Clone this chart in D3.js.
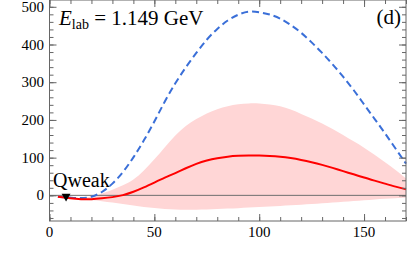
<!DOCTYPE html>
<html>
<head>
<script src="https://cdn.jsdelivr.net/npm/d3@7"></script>
</head>
<body style="margin:0">
<script>
var width = 407,
  height = 263;
var margin = {top: 0, right: 1, bottom: 42, left: 49.5};
var serif = "'Liberation Serif'";

// angle values (x) and the curves
var angles = [4, 10, 15, 20, 25, 30, 35, 40, 45, 50, 55, 60, 65, 70, 75, 80, 85, 90, 95,
  100, 105, 110, 115, 120, 125, 130, 135, 140, 145, 150, 155, 160, 165, 170];
var dashedVals = [-4, -6, -8, -5, 7, 30, 60, 100, 145, 195, 250, 298, 340, 378, 414, 442, 465, 480, 489,
  486, 480, 470, 452, 432, 406, 378, 348, 315, 280, 241, 203, 165, 124, 84];
var solidVals = [-4, -8, -10.5, -10.5, -8, -5, 0, 9, 21, 34, 47, 59, 72, 84, 93, 99, 103, 105, 106,
  105.5, 104.5, 102.5, 99, 94, 88, 81, 73, 64, 56, 47, 39, 31, 23, 16];
var bandUpper = [-4, -7, -8, -4, 5, 15, 26, 40, 65, 95, 128, 160, 185, 203, 218, 229, 237, 242, 244,
  244, 241, 237, 228, 216, 204, 191, 176, 160, 143, 127, 108, 88, 68, 45];
var bandLower = [-4.5, -9, -12, -13, -15, -19, -23, -27, -31, -34, -36, -37.5, -38, -38, -37.5, -36.5, -35, -34, -32.5,
  -31, -29.5, -28, -26.5, -25, -23, -21, -19, -17, -15, -13, -11, -9, -7.5, -6];

var xTicks = [0, 50, 100, 150];
var yTicks = [0, 100, 200, 300, 400, 500];
var qweakAngle = 7.9;

var svg = d3.select('body')
  .append('svg')
  .attr('width', width)
  .attr('height', height)
  .style('display', 'block');

var xScale = d3.scaleLinear()
  .domain([0, 170])
  .range([margin.left, width - margin.right]);

var yScale = d3.scaleLinear()
  .domain([-68, 518])
  .range([height - margin.bottom, margin.top]);

// band
var area = d3.area()
  .x(function(d, i) { return xScale(angles[i]); })
  .y0(function(d, i) { return yScale(bandLower[i]); })
  .y1(function(d, i) { return yScale(bandUpper[i]); })
  .curve(d3.curveBasis);

svg.append('path')
  .attr('d', area(angles))
  .attr('fill', '#ffd6d6');

// zero line
svg.append('line')
  .attr('x1', xScale(0)).attr('x2', xScale(170))
  .attr('y1', yScale(0)).attr('y2', yScale(0))
  .attr('stroke', '#6e6e6e')
  .attr('stroke-width', 1);

function makeLine(vals) {
  return d3.line()
    .x(function(d, i) { return xScale(angles[i]); })
    .y(function(d, i) { return yScale(vals[i]); })
    .curve(d3.curveBasis)(angles);
}

svg.append('path')
  .attr('d', makeLine(dashedVals))
  .attr('fill', 'none')
  .attr('stroke', '#3a6fd8')
  .attr('stroke-width', 2)
  .attr('stroke-dasharray', '7,4');

svg.append('path')
  .attr('d', makeLine(solidVals))
  .attr('fill', 'none')
  .attr('stroke', '#ff0000')
  .attr('stroke-width', 2);

// Qweak marker
svg.append('path')
  .attr('d', d3.symbol().type(d3.symbolTriangle).size(34)())
  .attr('transform', 'translate(' + xScale(qweakAngle) + ',' + (yScale(0) + 1) + ') rotate(180)')
  .attr('fill', '#000');

// Axes (ticks pointing inward)
var minorX = d3.range(0, 171, 10);
var minorY = d3.range(-60, 519, 20);

function tickAxis(axisFn, scale, vals, size, transform) {
  svg.append('g')
    .attr('transform', transform)
    .call(axisFn(scale).tickValues(vals).tickSize(size).tickFormat(''))
    .call(function(g) {
      g.select('.domain').remove();
      g.selectAll('text').remove();
      g.attr('font-family', null).attr('font-size', null).attr('text-anchor', null);
    })
    .selectAll('line').attr('stroke', '#666');
}

var bottomY = height - margin.bottom;
tickAxis(d3.axisBottom, xScale, minorX, -4, 'translate(0,' + bottomY + ')');
tickAxis(d3.axisBottom, xScale, xTicks, -7, 'translate(0,' + bottomY + ')');
tickAxis(d3.axisTop, xScale, minorX, -4, 'translate(0,' + margin.top + ')');
tickAxis(d3.axisTop, xScale, xTicks, -7, 'translate(0,' + margin.top + ')');
tickAxis(d3.axisLeft, yScale, minorY, -4, 'translate(' + margin.left + ',0)');
tickAxis(d3.axisLeft, yScale, yTicks, -7, 'translate(' + margin.left + ',0)');
tickAxis(d3.axisRight, yScale, minorY, -4, 'translate(' + (width - margin.right) + ',0)');
tickAxis(d3.axisRight, yScale, yTicks, -7, 'translate(' + (width - margin.right) + ',0)');

// frame
svg.append('rect')
  .attr('x', margin.left).attr('y', margin.top)
  .attr('width', width - margin.right - margin.left)
  .attr('height', height - margin.bottom - margin.top)
  .attr('fill', 'none')
  .attr('stroke', '#666')
  .attr('stroke-width', 1);

// labels
svg.append('text')
  .attr('x', 53)
  .attr('y', 187)
  .attr('font-family', 'Liberation Serif')
  .style('font-family', serif)
  .style('font-size', '20px')
  .text('Qweak');

svg.selectAll('.xlab')
  .data(xTicks)
  .enter()
  .append('text')
  .attr('x', function(d) { return xScale(d); })
  .attr('y', 237)
  .attr('text-anchor', 'middle')
  .attr('font-family', 'Liberation Serif')
  .style('font-family', serif)
  .style('font-size', '15px')
  .text(function(d) { return d; });

svg.selectAll('.ylab')
  .data(yTicks)
  .enter()
  .append('text')
  .attr('x', 44)
  .attr('y', function(d) { return yScale(d) + 5; })
  .attr('text-anchor', 'end')
  .attr('font-family', 'Liberation Serif')
  .style('font-family', serif)
  .style('font-size', '15px')
  .text(function(d) { return d; });

// energy label
var lab = svg.append('text')
  .attr('x', 59)
  .attr('y', 25)
  .attr('font-family', 'Liberation Serif')
  .style('font-family', serif)
  .style('font-size', '21px');
lab.append('tspan').style('font-style', 'italic').text('E');
lab.append('tspan').attr('dy', 4).style('font-size', '14px').text('lab');
lab.append('tspan').attr('dy', -4).text(' = 1.149 GeV');

svg.append('text')
  .attr('x', 401)
  .attr('y', 24)
  .attr('text-anchor', 'end')
  .attr('font-family', 'Liberation Serif')
  .style('font-family', serif)
  .style('font-size', '21px')
  .text('(d)');
</script>
</body>
</html>
